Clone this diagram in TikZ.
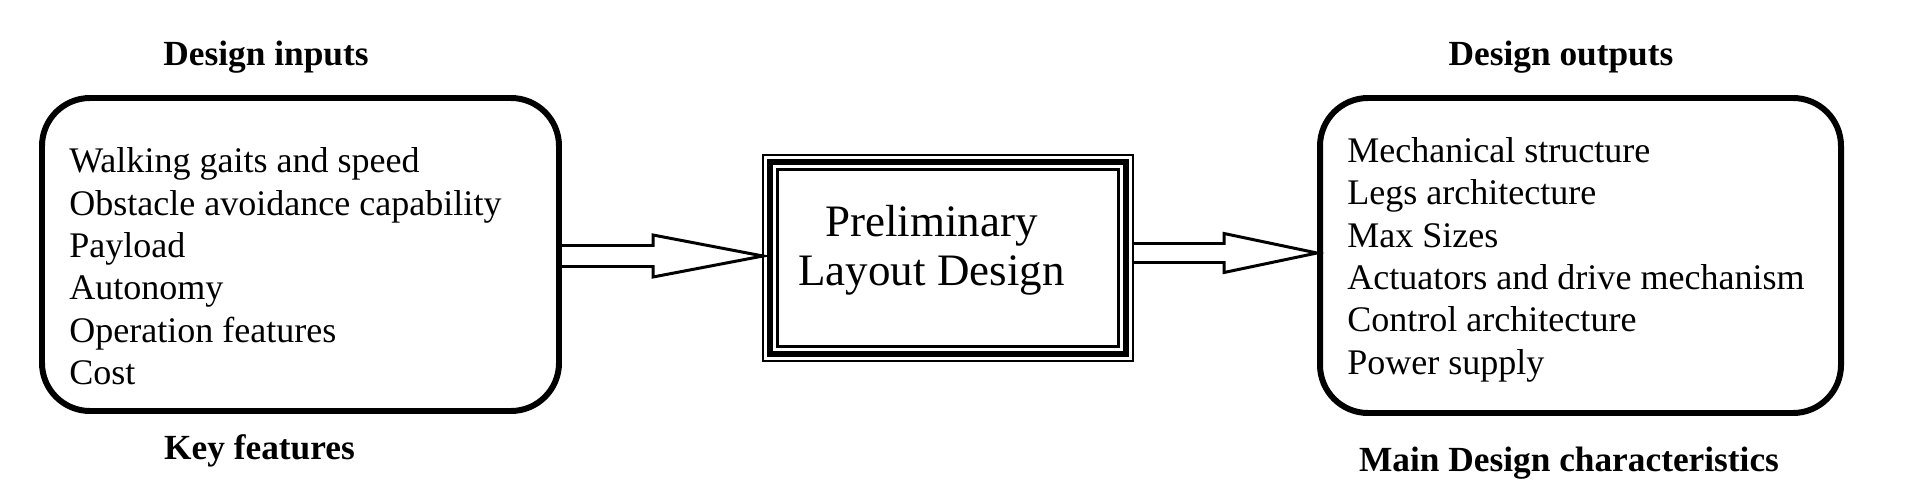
\documentclass[tikz,border=0pt]{standalone}
\usepackage{fontspec}
\setmainfont{Liberation Serif}
\usetikzlibrary{positioning, calc}

\begin{document}
\begin{tikzpicture}[roundbox/.style={rectangle, draw, line width=3.4pt, rounded corners=0.96cm, inner sep=0pt},
                mainbox/.style={rectangle, draw, line width=3.4pt, minimum width=7.12cm, minimum height=3.84cm, inner sep=0pt, outer sep=0pt},
                listtext/.style={align=left, inner sep=0pt, font=\fontsize{20.5}{24.1}\selectfont},
                heading/.style={inner sep=0pt, font=\fontsize{20.1}{24}\selectfont\bfseries},
                hollow/.style={line width=1.7pt, line join=miter}]
                \useasboundingbox (0,0) rectangle (38.22,9.72);

                \node[roundbox, minimum width=10.34cm, minimum height=6.26cm] (inputs) at (6.01,4.63) {};
                \node[roundbox, minimum width=10.42cm, minimum height=6.30cm] (outputs) at (31.61,4.61) {};
                \node[mainbox] (layout) at (18.96,4.56) {};
                \draw[line width=1.1pt] ([shift={(-0.14,0.14)}]layout.north west) rectangle ([shift={(0.14,-0.14)}]layout.south east);
                \draw[line width=1.7pt] ([shift={(0.15,-0.15)}]layout.north west) rectangle ([shift={(-0.15,0.15)}]layout.south east);

                \node[listtext, anchor=north west] (keylist) at (1.38,6.77) {Walking gaits and speed\\Obstacle avoidance capability\\Payload\\Autonomy\\Operation features\\Cost};
                \node[listtext, anchor=north west] (charlist) at (26.94,6.98) {Mechanical structure\\Legs architecture\\Max Sizes\\Actuators and drive mechanism\\Control architecture\\Power supply};
                \node[align=center, inner sep=0pt, font=\fontsize{25.6}{27.8}\selectfont] (layouttext) at (18.63,4.71) {Preliminary\\Layout Design};

                \node[heading, above=4.2mm of inputs, xshift=-6.9mm] (inhead) {Design inputs};
                \node[heading, below=4.1mm of inputs, xshift=-8.2mm] (infoot) {Key features};
                \node[heading, above=4.2mm of outputs, xshift=-3.9mm] (outhead) {Design outputs};
                \node[heading, below=6.1mm of outputs, xshift=-2.3mm] (outfoot) {Main Design characteristics};

                \coordinate (tipA) at ([shift={(-0.14,0.04)}]layout.west);
                \draw[hollow] ($(inputs.east |- tipA)+(0,0.21)$) -- ($(tipA)+(-2.2,0.21)$) -- ($(tipA)+(-2.2,0.42)$) -- (tipA)
                    -- ($(tipA)+(-2.2,-0.42)$) -- ($(tipA)+(-2.2,-0.21)$) -- ($(inputs.east |- tipA)+(0,-0.21)$);
                \coordinate (tipB) at ([yshift=0.5mm]outputs.west);
                \draw[hollow] ($(layout.east |- tipB)+(0.14,0.19)$) -- ($(tipB)+(-1.86,0.19)$) -- ($(tipB)+(-1.86,0.39)$) -- (tipB)
                    -- ($(tipB)+(-1.86,-0.39)$) -- ($(tipB)+(-1.86,-0.19)$) -- ($(layout.east |- tipB)+(0.14,-0.19)$);
            \end{tikzpicture}
\end{document}
